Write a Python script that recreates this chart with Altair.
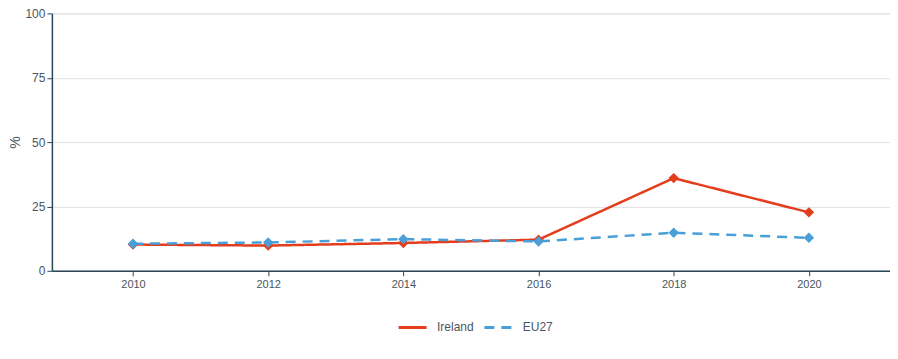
import altair as alt
import pandas as pd

years = [2010, 2012, 2014, 2016, 2018, 2020]
ireland = [10.2, 9.8, 10.8, 12.1, 36.0, 22.7]
eu27 = [10.5, 11.0, 12.3, 11.4, 14.8, 12.8]
series_names = ["Ireland", "EU27"]
colors = ["#e33d1c", "#4a9fd8"]

rows = []
for y, a, b in zip(years, ireland, eu27):
    rows.append({"year": y, "series": "Ireland", "value": a})
    rows.append({"year": y, "series": "EU27", "value": b})
df = pd.DataFrame(rows)

x = alt.X("year:Q", scale=alt.Scale(domain=[2008.8, 2021.2], nice=False, zero=False),
          axis=alt.Axis(values=years, format="d", title=None, grid=False,
                        domainColor="#2b475a", tickColor="#2b475a", labelColor="#4a5560",
                        labelFontSize=11, labelPadding=3, domainWidth=1.5))
y = alt.Y("value:Q", scale=alt.Scale(domain=[0, 100], nice=False),
          axis=alt.Axis(values=[0, 25, 50, 75, 100], title="%", titleColor="#4a5560",
                        titleFontWeight="normal", titleFontSize=14, titlePadding=2,
                        labelColor="#4a5560", labelFontSize=12, gridColor="#e2e2e2",
                        domainColor="#2b475a", tickColor="#2b475a", domainWidth=1.5))
color = alt.Color("series:N", scale=alt.Scale(domain=series_names, range=colors),
                  legend=alt.Legend(title=None, orient="none", direction="horizontal",
                                    legendX=346, legendY=299, symbolType="stroke",
                                    symbolStrokeWidth=3, symbolSize=784,
                                    labelFontSize=12, labelColor="#4a5560",
                                    labelOffset=9, columnPadding=4))
dash = alt.StrokeDash("series:N", scale=alt.Scale(domain=series_names, range=[[1, 0], [10, 7]]),
                      legend=None)

lines = alt.Chart(df).mark_line(strokeWidth=2.5).encode(x=x, y=y, color=color, strokeDash=dash)
points = alt.Chart(df).mark_point(shape="diamond", filled=True, size=110, opacity=1).encode(
    x=x, y=y, color=alt.Color("series:N", scale=alt.Scale(domain=series_names, range=colors), legend=None))

chart = (lines + points).properties(
    width=840, height=258,
    autosize=alt.AutoSizeParams(type="none"),
    padding={"left": 44, "top": 5, "right": 0, "bottom": 80},
).configure_view(stroke=None).configure(font="Liberation Sans")

chart.save("out.html", embed_options={"renderer": "svg", "actions": False})
